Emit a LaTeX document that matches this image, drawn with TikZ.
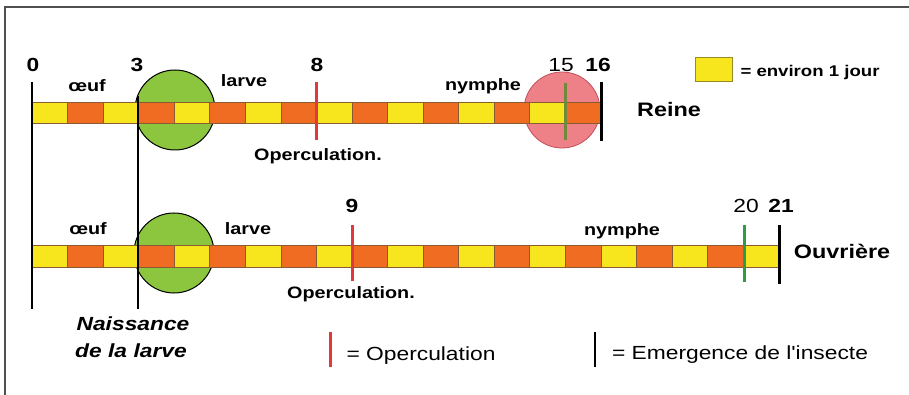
\documentclass[tikz,border=0pt]{standalone}
\usepackage{fontspec}
\setmainfont{Liberation Sans}
\definecolor{cellY}{HTML}{F7E51E}
\definecolor{cellO}{HTML}{EF6C22}
\definecolor{cellBorder}{HTML}{8A5A30}
\definecolor{larvaGreen}{HTML}{8CC63F}
\definecolor{queenPink}{HTML}{EE8088}
\definecolor{pinkEdge}{HTML}{C0505A}
\definecolor{operRed}{HTML}{E0383C}
\definecolor{emGreen}{HTML}{2E9A4A}
\definecolor{oliveGreen}{HTML}{6F8A3C}
\definecolor{frameGrey}{HTML}{505050}
\definecolor{boxEdge}{HTML}{9A8A20}
\newcommand{\stretchtxt}[1]{\scalebox{1.2}[1]{#1}}
\tikzset{
  lbl/.style={inner sep=0pt, anchor=base, font=\bfseries\fontsize{16.5}{18}\selectfont},
  numlbl/.style={inner sep=0pt, anchor=base, font=\bfseries\fontsize{19}{21}\selectfont},
  numreg/.style={inner sep=0pt, anchor=base, font=\fontsize{19}{21}\selectfont},
  castelbl/.style={inner sep=0pt, anchor=base, font=\bfseries\fontsize{19.5}{22}\selectfont},
  birthlbl/.style={inner sep=0pt, anchor=base, font=\bfseries\itshape\fontsize{19}{22}\selectfont},
  leglbl/.style={inner sep=0pt, anchor=base, font=\fontsize{19}{21}\selectfont},
  legbold/.style={inner sep=0pt, anchor=base, font=\bfseries\fontsize{15.5}{18}\selectfont},
  daycell/.style={draw=cellBorder, line width=0.6pt},
  opline/.style={draw=operRed, line width=3pt},
  emline/.style={draw=black, line width=2.6pt},
  nymline/.style={draw=emGreen, line width=3pt},
  birthline/.style={draw=black, line width=2pt},
}
\begin{document}
\begin{tikzpicture}[x=1pt,y=-1pt]
\useasboundingbox (0,0) rectangle (909,395);
\fill[white] (0,0) rectangle (909,395);
% frame
\draw[frameGrey, line width=1.3pt] (909,7) -- (5,7) -- (5,395);

% circles (behind bars)
\node[circle, draw=black, line width=1pt, fill=larvaGreen, minimum size=80pt, inner sep=0pt] (larveQ) at (175,110) {};
\node[circle, draw=black, line width=1pt, fill=larvaGreen, minimum size=80pt, inner sep=0pt] (larveW) at (174,253) {};
\node[circle, draw=pinkEdge, line width=0.8pt, fill=queenPink, minimum size=76pt, inner sep=0pt] (nympheQ) at (562,110) {};

% queen bar (16 days)
\foreach \i in {0,...,15}{
  \pgfmathsetmacro{\xa}{32+\i*35.55}
  \pgfmathsetmacro{\xb}{32+(\i+1)*35.55}
  \ifodd\i \def\cc{cellO}\else\def\cc{cellY}\fi
  \filldraw[daycell, fill=\cc] (\xa,102) rectangle (\xb,123);
}
% worker bar (21 days)
\foreach \i in {0,...,20}{
  \pgfmathsetmacro{\xa}{32+\i*35.55}
  \pgfmathsetmacro{\xb}{32+(\i+1)*35.55}
  \ifodd\i \def\cc{cellO}\else\def\cc{cellY}\fi
  \filldraw[daycell, fill=\cc] (\xa,245) rectangle (\xb,267);
}

% day 0 and day 3 lines
\coordinate (d0top) at (32,82);
\coordinate (d0bot) at (32,309);
\coordinate (d3top) at (138,96);
\coordinate (d3bot) at (138,309);
\draw[birthline] (d0top) -- (d0bot);
\draw[birthline] (d3top) -- (d3bot);

% queen markers
\coordinate (q8t) at (316.4,82);  \coordinate (q8b) at (316.4,140);
\coordinate (q15t) at (565.3,83); \coordinate (q15b) at (565.3,140);
\coordinate (q16t) at (601.5,82); \coordinate (q16b) at (601.5,141);
\draw[opline] (q8t) -- (q8b);
\draw[draw=oliveGreen, line width=3pt] (q15t) -- (q15b);
\draw[emline] (q16t) -- (q16b);

% worker markers
\coordinate (w9t) at (352,225);   \coordinate (w9b) at (352,281);
\coordinate (w20t) at (744,225);  \coordinate (w20b) at (744,282);
\coordinate (w21t) at (779.5,225);\coordinate (w21b) at (779.5,284);
\draw[opline] (w9t) -- (w9b);
\draw[nymline] (w20t) -- (w20b);
\draw[emline] (w21t) -- (w21b);

% queen labels
\node[numlbl] (n0) at (33,72) {\stretchtxt{0}};
\node[numlbl] (n3) at (137,72) {\stretchtxt{3}};
\node[numlbl] (n8) at (317,72) {\stretchtxt{8}};
\node[numreg] (n15) at (561,72) {\stretchtxt{15}};
\node[numlbl] (n16) at (598,72) {\stretchtxt{16}};
\node[lbl] (oeufQ) at (87,92) {\stretchtxt{œuf}};
\node[lbl] (larveQt) at (244,87) {\stretchtxt{larve}};
\node[lbl] (nymQ) at (483,91) {\stretchtxt{nymphe}};
\node[castelbl] (reine) at (669,117) {\stretchtxt{Reine}};
\node[lbl] (opQ) at (318,161) {\stretchtxt{Operculation.}};

% legend: one day
\filldraw[fill=cellY, draw=boxEdge, line width=0.8pt] (695,57) rectangle (732,81);
\node[legbold] (jour) at (810,77) {\stretchtxt{= environ 1 jour}};

% worker labels
\node[numlbl] (n9) at (352,213) {\stretchtxt{9}};
\node[numreg] (n20) at (746,213) {\stretchtxt{20}};
\node[numlbl] (n21) at (781,213) {\stretchtxt{21}};
\node[lbl] (oeufW) at (88,235) {\stretchtxt{œuf}};
\node[lbl] (larveWt) at (248,235) {\stretchtxt{larve}};
\node[lbl] (nymW) at (622,236) {\stretchtxt{nymphe}};
\node[castelbl] (ouv) at (842,258) {\stretchtxt{Ouvrière}};
\node[lbl] (opW) at (351,298) {\stretchtxt{Operculation.}};

% birth label
\node[birthlbl] (naiss1) at (133,330) {\stretchtxt{Naissance}};
\node[birthlbl] (naiss2) at (131,357) {\stretchtxt{de la larve}};

% bottom legends
\coordinate (lr1) at (330,332); \coordinate (lr2) at (330,367);
\draw[opline] (lr1) -- (lr2);
\node[leglbl] (legop) at (421,360) {\stretchtxt{= Operculation}};
\coordinate (lb1) at (595,332); \coordinate (lb2) at (595,367);
\draw[emline] (lb1) -- (lb2);
\node[leglbl] (legem) at (740,359) {\stretchtxt{= Emergence de l\textquotesingle insecte}};
\end{tikzpicture}
\end{document}
